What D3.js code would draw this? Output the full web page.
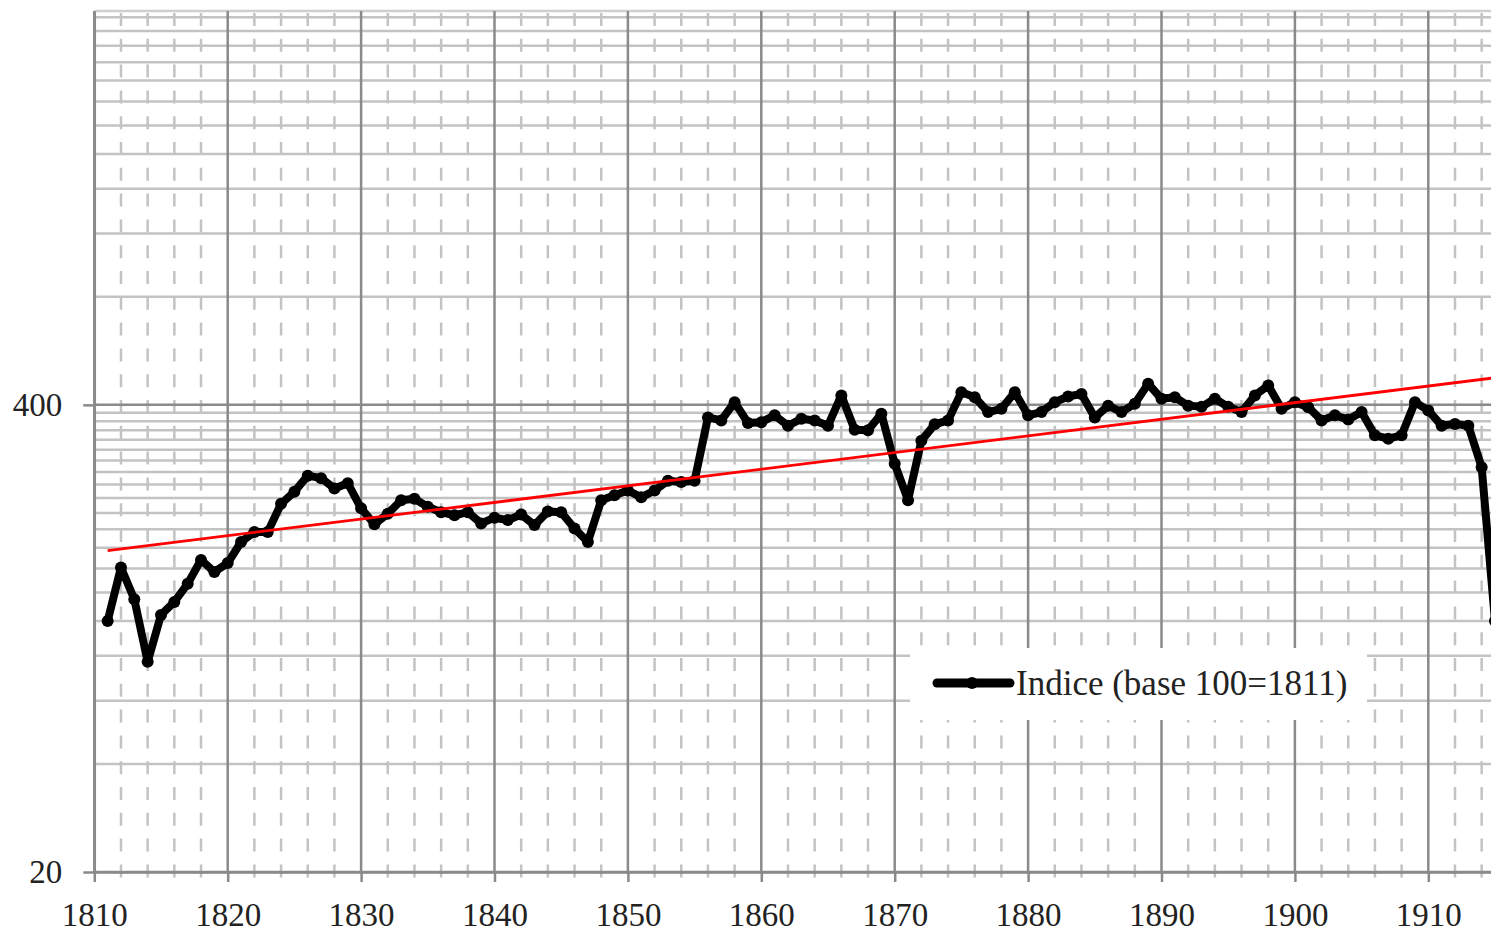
<!DOCTYPE html>
<html>
<head>
<meta charset="utf-8">
<script src="https://cdn.jsdelivr.net/npm/d3@7"></script>
<style>
  body { margin: 0; background: #fff; }
  svg { display: block; font-family: "Liberation Serif", "Times New Roman", serif; }
</style>
</head>
<body>
<div id="chart"></div>
<script>
// index values (base 100 = 1811), one per year
var years = [1811, 1812, 1813, 1814, 1815, 1816, 1817, 1818, 1819, 1820,
  1821, 1822, 1823, 1824, 1825, 1826, 1827, 1828, 1829, 1830,
  1831, 1832, 1833, 1834, 1835, 1836, 1837, 1838, 1839, 1840,
  1841, 1842, 1843, 1844, 1845, 1846, 1847, 1848, 1849, 1850,
  1851, 1852, 1853, 1854, 1855, 1856, 1857, 1858, 1859, 1860,
  1861, 1862, 1863, 1864, 1865, 1866, 1867, 1868, 1869, 1870,
  1871, 1872, 1873, 1874, 1875, 1876, 1877, 1878, 1879, 1880,
  1881, 1882, 1883, 1884, 1885, 1886, 1887, 1888, 1889, 1890,
  1891, 1892, 1893, 1894, 1895, 1896, 1897, 1898, 1899, 1900,
  1901, 1902, 1903, 1904, 1905, 1906, 1907, 1908, 1909, 1910,
  1911, 1912, 1913, 1914, 1915];
var indice = [100, 141, 115, 77, 104, 113, 127, 148, 137, 145,
  166, 177, 177, 212, 229, 254, 250, 234, 242, 206,
  186, 199, 217, 219, 208, 201, 197, 201, 187, 194,
  191, 198, 185, 202, 201, 181, 166, 217, 224, 231,
  221, 231, 246, 244, 246, 369, 362, 407, 356, 358,
  374, 350, 366, 362, 350, 425, 341, 340, 378, 274,
  217, 318, 353, 362, 434, 420, 382, 390, 434, 374,
  382, 407, 422, 429, 369, 398, 382, 403, 458, 416,
  420, 398, 395, 416, 395, 382, 425, 453, 390, 407,
  394, 362, 374, 364, 382, 329, 322, 329, 407, 386,
  350, 354, 350, 268, 100];

// red trend line, read at both ends
var trendYears = [1811, 1915];
var trendValues = [157, 476];

// axis labels
var xTicks = [1810, 1820, 1830, 1840, 1850, 1860, 1870, 1880, 1890, 1900, 1910];
var yTicks = [20, 400];
var legendLabel = "Indice (base 100=1811)";

// set the dimensions and margins of the graph
var margin = {top: 11, left: 94.3},
    width = 110 * 13.34,
    height = 861;

var svg = d3.select("#chart")
  .append("svg")
    .attr("width", 1491)
    .attr("height", 932)
  .append("g")
    .attr("transform", "translate(" + margin.left + "," + margin.top + ")");

var x = d3.scaleLinear()
  .domain([1810, 1920])
  .range([0, width]);

var y = d3.scaleLog()
  .base(20)
  .domain([20, 5000])
  .range([height, 0]);

var majorColor = "#8a8a8a",
    minorColor = "#c3c3c3";

// minor horizontal gridlines (log base 20: steps of 20, then of 400)
var yMinor = [];
for (var v = 40; v < 400; v += 20) yMinor.push(v);
for (var w = 800; w <= 4800; w += 400) yMinor.push(w);

svg.append("g")
  .selectAll("line")
  .data(yMinor)
  .enter()
  .append("line")
    .attr("x1", 0)
    .attr("x2", width)
    .attr("y1", function(d) { return y(d); })
    .attr("y2", function(d) { return y(d); })
    .style("stroke", minorColor)
    .style("stroke-width", 2.5);

// top border of plot area
svg.append("line")
  .attr("x1", 0).attr("x2", width)
  .attr("y1", 0).attr("y2", 0)
  .style("stroke", "#cfcfcf")
  .style("stroke-width", 2.5);

// minor vertical gridlines, dashed, every 2 years
var xMinor = [];
for (var yr = 1812; yr < 1920; yr += 2) { if (yr % 10 != 0) xMinor.push(yr); }

svg.append("g")
  .selectAll("line")
  .data(xMinor)
  .enter()
  .append("line")
    .attr("x1", function(d) { return x(d); })
    .attr("x2", function(d) { return x(d); })
    .attr("y1", 0)
    .attr("y2", height + 6)
    .style("stroke", minorColor)
    .style("stroke-width", 2.5)
    .style("stroke-dasharray", "13,12.8")
    .style("stroke-dashoffset", 23.8);

// major vertical gridlines
svg.append("g")
  .selectAll("line")
  .data(xTicks)
  .enter()
  .append("line")
    .attr("x1", function(d) { return x(d); })
    .attr("x2", function(d) { return x(d); })
    .attr("y1", 0)
    .attr("y2", height)
    .style("stroke", majorColor)
    .style("stroke-width", 2.5);

// major horizontal gridline
svg.append("g")
  .selectAll("line")
  .data(yTicks)
  .enter()
  .append("line")
    .attr("x1", 0)
    .attr("x2", width)
    .attr("y1", function(d) { return y(d); })
    .attr("y2", function(d) { return y(d); })
    .style("stroke", majorColor)
    .style("stroke-width", 2.5);

// Add X axis
var xAxis = svg.append("g")
  .attr("transform", "translate(0," + height + ")")
  .call(d3.axisBottom(x)
    .tickValues(xTicks)
    .tickFormat(d3.format("d"))
    .tickSizeInner(10)
    .tickSizeOuter(0)
    .tickPadding(21));

// Add Y axis
var yAxis = svg.append("g")
  .call(d3.axisLeft(y)
    .tickValues(yTicks)
    .tickFormat(d3.format("d"))
    .tickSizeInner(11)
    .tickSizeOuter(0)
    .tickPadding(21));

[xAxis, yAxis].forEach(function(a) {
  a.select(".domain").style("stroke", majorColor).style("stroke-width", 2.5);
  a.selectAll(".tick line").style("stroke", majorColor).style("stroke-width", 2.5);
  a.selectAll(".tick text")
    .style("font-family", "'Liberation Serif', serif")
    .style("font-size", "33px")
    .style("fill", "#222");
});

// Add the line
var line = d3.line()
  .x(function(d) { return x(d[0]); })
  .y(function(d) { return y(d[1]); });

var points = years.map(function(d, i) { return [d, indice[i]]; });

svg.append("path")
  .datum(points)
  .attr("d", line)
  .style("fill", "none")
  .style("stroke", "#000")
  .style("stroke-width", 8)
  .style("stroke-linejoin", "round");

// Add dots
svg.append("g")
  .selectAll("circle")
  .data(points)
  .enter()
  .append("circle")
    .attr("cx", function(d) { return x(d[0]); })
    .attr("cy", function(d) { return y(d[1]); })
    .attr("r", 6)
    .style("fill", "#000");

// trend line
var trend = trendYears.map(function(d, i) { return [d, trendValues[i]]; });
svg.append("path")
  .datum(trend)
  .attr("d", line)
  .style("fill", "none")
  .style("stroke", "#ff0000")
  .style("stroke-width", 2.8);

// Add legend
var lg = svg.append("g")
  .attr("transform", "translate(" + (910 - margin.left) + "," + (648 - margin.top) + ")");
lg.append("rect")
  .attr("width", 457)
  .attr("height", 72)
  .style("fill", "#fff");
lg.append("line")
  .attr("x1", 27).attr("x2", 100)
  .attr("y1", 35).attr("y2", 35)
  .style("stroke", "#000")
  .style("stroke-width", 9)
  .style("stroke-linecap", "round");
lg.append("circle").attr("cx", 62).attr("cy", 35).attr("r", 6).style("fill", "#000");
lg.append("text")
  .attr("x", 106)
  .attr("y", 47)
  .text(legendLabel)
  .style("font-size", "35px")
  .style("fill", "#222");
</script>
</body>
</html>
